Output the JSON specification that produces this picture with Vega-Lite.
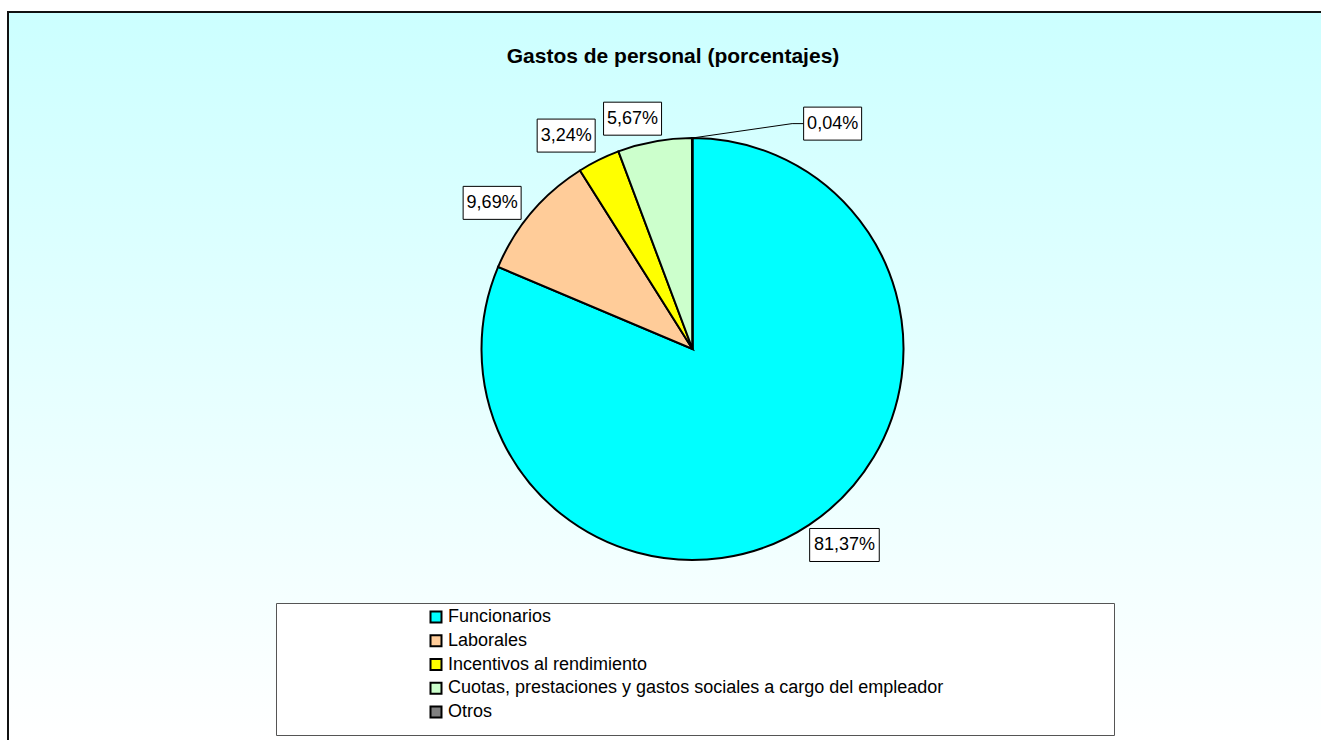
{
  "$schema": "https://vega.github.io/schema/vega-lite/v6.json",
  "width": 1313,
  "height": 728,
  "padding": {"left": 8, "top": 12, "right": 0, "bottom": 0},
  "background": "white",
  "view": {
    "fill": {"gradient": "linear", "x1": 0, "y1": 0, "x2": 0, "y2": 1, "stops": [{"offset": 0, "color": "#CCFFFF"}, {"offset": 1, "color": "#FFFFFF"}]},
    "stroke": "#111111",
    "strokeWidth": 2,
    "strokeDash": [1313, 2041, 728]
  },
  "title": {
    "text": "Gastos de personal (porcentajes)",
    "font": "Liberation Sans",
    "fontSize": 21,
    "fontWeight": "bold",
    "color": "black",
    "anchor": "middle",
    "frame": "group",
    "dx": 8.5,
    "offset": -72,
    "baseline": "alphabetic"
  },
  "config": {
    "locale": {"number": {"decimal": ",", "thousands": ".", "grouping": [3], "currency": ["", " €"]}},
    "font": "Liberation Sans"
  },
  "data": {
    "values": [
      {"categoria": "Funcionarios", "valor": 0.8137, "orden": 1},
      {"categoria": "Laborales", "valor": 0.0969, "orden": 2},
      {"categoria": "Incentivos al rendimiento", "valor": 0.0324, "orden": 3},
      {"categoria": "Cuotas, prestaciones y gastos sociales a cargo del empleador", "valor": 0.0567, "orden": 4},
      {"categoria": "Otros", "valor": 0.0004, "orden": 5}
    ]
  },
  "transform": [
    {"joinaggregate": [{"op": "sum", "field": "valor", "as": "tot"}]},
    {"window": [{"op": "sum", "field": "valor", "as": "cum"}], "sort": [{"field": "orden", "order": "ascending"}]},
    {"calculate": "replace(format(datum.valor, '.2%'), '.', ',')", "as": "etiqueta"},
    {"calculate": "(datum.cum - datum.valor / 2) / datum.tot * 2 * PI", "as": "mid"},
    {"calculate": "datum.mid + (datum.categoria == 'Otros' ? 0.5575 : -0.074)", "as": "ang"},
    {"calculate": "datum.categoria == 'Otros' ? 265.4 : (datum.orden == 4 ? 238 : 248)", "as": "rr"},
    {"calculate": "datum.rr * sin(datum.ang)", "as": "lx"},
    {"calculate": "datum.rr * cos(datum.ang)", "as": "ly"},
    {"calculate": "length(datum.etiqueta) * 5.8", "as": "hw"},
    {"calculate": "datum.lx - datum.hw", "as": "bx1"},
    {"calculate": "datum.lx + datum.hw", "as": "bx2"},
    {"calculate": "datum.ly - 16.5", "as": "by1"},
    {"calculate": "datum.ly + 16.5", "as": "by2"},
    {"calculate": "211 * sin(datum.mid)", "as": "px"},
    {"calculate": "211 * cos(datum.mid)", "as": "py"},
    {"calculate": "datum.lx - 40.5", "as": "kx"}
  ],
  "layer": [
    {
      "mark": {"type": "arc", "radius": 211, "stroke": "black", "strokeWidth": 2},
      "encoding": {
        "x": {"datum": 0, "type": "quantitative", "scale": {"domain": [-684.5, 628.5], "nice": false, "zero": false}, "axis": null},
        "y": {"datum": 0, "type": "quantitative", "scale": {"domain": [-391, 337], "nice": false, "zero": false}, "axis": null},
        "theta": {"field": "valor", "type": "quantitative", "stack": true},
        "order": {"field": "orden", "type": "quantitative"},
        "color": {
          "field": "categoria",
          "type": "nominal",
          "scale": {
            "domain": ["Funcionarios", "Laborales", "Incentivos al rendimiento", "Cuotas, prestaciones y gastos sociales a cargo del empleador", "Otros"],
            "range": ["#00FFFF", "#FFCC99", "#FFFF00", "#CCFFCC", "#808080"]
          },
          "legend": {
            "orient": "none",
            "legendX": 268,
            "legendY": 591,
            "title": "\u00a0",
            "titleOrient": "right",
            "titleAnchor": "start",
            "titleBaseline": "top",
            "titleFontSize": 123,
            "titleColor": "rgba(0,0,0,0)",
            "titlePadding": 166,
            "padding": 5,
            "fillColor": "white",
            "strokeColor": "#555555",
            "labelFont": "Liberation Sans",
            "labelFontSize": 18,
            "labelColor": "black",
            "labelLimit": 2000,
            "symbolOffset": 146,
            "labelOffset": 3,
            "rowPadding": 3.75,
            "symbolType": "square",
            "symbolSize": 121,
            "symbolStrokeWidth": 2,
            "symbolStrokeColor": "black",
            "symbolOpacity": 1
          }
        }
      }
    },
    {
      "transform": [{"filter": "datum.categoria == 'Otros'"}],
      "mark": {"type": "rule", "color": "black", "strokeWidth": 1},
      "encoding": {
        "x": {"field": "px", "type": "quantitative", "scale": {"domain": [-684.5, 628.5], "nice": false, "zero": false}, "axis": null},
        "y": {"field": "py", "type": "quantitative", "scale": {"domain": [-391, 337], "nice": false, "zero": false}, "axis": null},
        "x2": {"field": "kx"},
        "y2": {"field": "ly"}
      }
    },
    {
      "transform": [{"filter": "datum.categoria == 'Otros'"}],
      "mark": {"type": "rule", "color": "black", "strokeWidth": 1},
      "encoding": {
        "x": {"field": "kx", "type": "quantitative", "scale": {"domain": [-684.5, 628.5], "nice": false, "zero": false}, "axis": null},
        "y": {"field": "ly", "type": "quantitative", "scale": {"domain": [-391, 337], "nice": false, "zero": false}, "axis": null},
        "x2": {"field": "bx1"},
        "y2": {"field": "ly"}
      }
    },
    {
      "mark": {"type": "rect", "fill": "white", "stroke": "black", "strokeWidth": 1},
      "encoding": {
        "x": {"field": "bx1", "type": "quantitative", "scale": {"domain": [-684.5, 628.5], "nice": false, "zero": false}, "axis": null},
        "x2": {"field": "bx2"},
        "y": {"field": "by1", "type": "quantitative", "scale": {"domain": [-391, 337], "nice": false, "zero": false}, "axis": null},
        "y2": {"field": "by2"}
      }
    },
    {
      "mark": {"type": "text", "font": "Liberation Sans", "fontSize": 18, "color": "black", "align": "center", "baseline": "middle"},
      "encoding": {
        "x": {"field": "lx", "type": "quantitative", "scale": {"domain": [-684.5, 628.5], "nice": false, "zero": false}, "axis": null},
        "y": {"field": "ly", "type": "quantitative", "scale": {"domain": [-391, 337], "nice": false, "zero": false}, "axis": null},
        "text": {"field": "etiqueta"}
      }
    }
  ]
}
